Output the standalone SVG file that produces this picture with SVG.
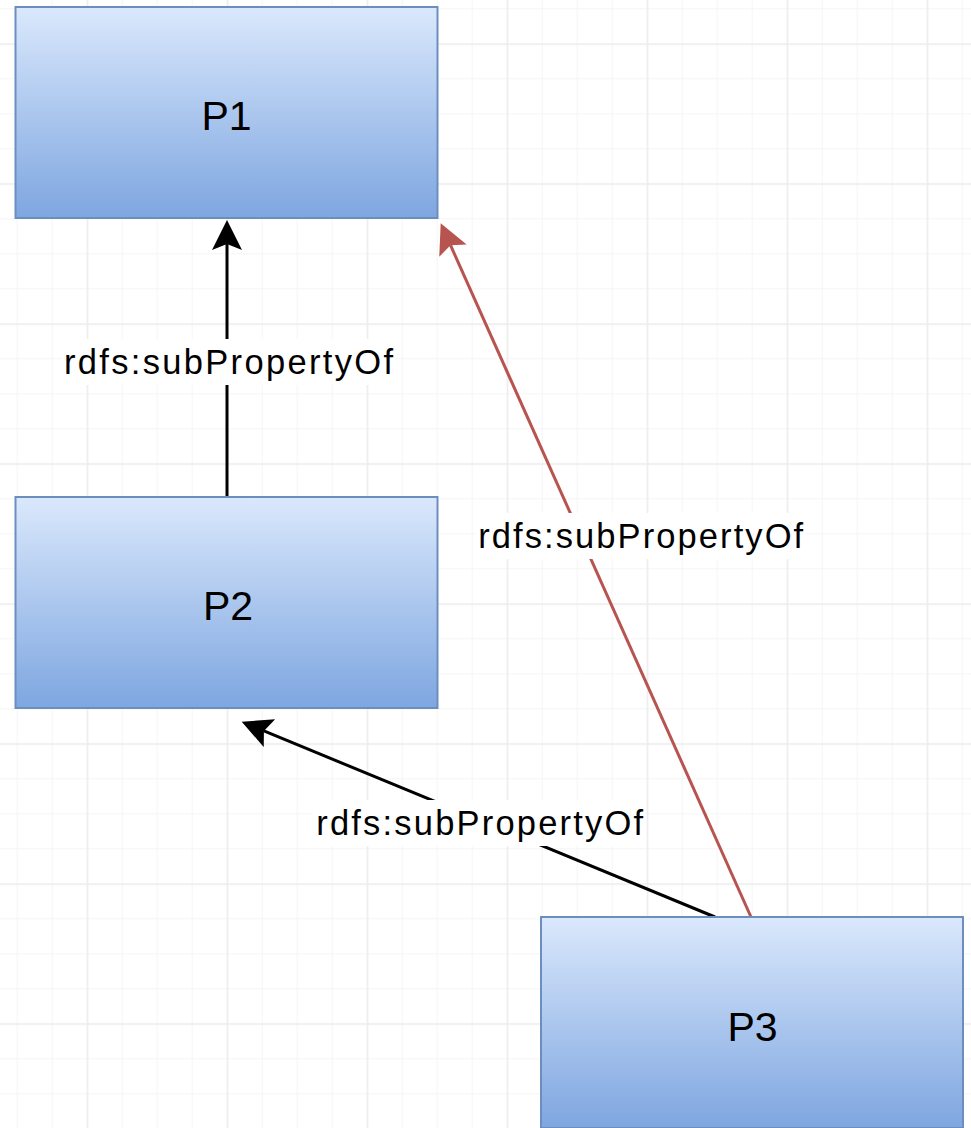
<svg xmlns="http://www.w3.org/2000/svg" width="971" height="1128" viewBox="0 0 971 1128">
<style>
.node{stroke:#6c8ebf;stroke-width:2;fill:url(#blueGrad)}
.nlabel{font-family:"Liberation Sans",Arial,sans-serif;font-size:41px;fill:#000;text-anchor:middle}
.elabel{font-family:"Liberation Sans",Arial,sans-serif;font-size:34.5px;fill:#000;text-anchor:middle}
.edge{fill:none;stroke-width:3}
.black{stroke:#000}
.red{stroke:#b85450}
.lblbg{fill:#fff}
</style>
<defs>
<linearGradient id="blueGrad" x1="0" y1="0" x2="0" y2="1">
<stop offset="0" stop-color="#dae8fc"/>
<stop offset="1" stop-color="#7ea6e0"/>
</linearGradient>
<pattern id="grid" patternUnits="userSpaceOnUse" x="86.7" y="43.3" width="140" height="140">
<rect x="0" y="0" width="140" height="140" fill="#fff"/>
<rect x="35" y="0" width="1" height="140" fill="#f5f5f5"/>
<rect x="70" y="0" width="1" height="140" fill="#f5f5f5"/>
<rect x="105" y="0" width="1" height="140" fill="#f5f5f5"/>
<rect x="0" y="35" width="140" height="1" fill="#f5f5f5"/>
<rect x="0" y="70" width="140" height="1" fill="#f5f5f5"/>
<rect x="0" y="105" width="140" height="1" fill="#f5f5f5"/>
<rect x="0" y="0" width="1.5" height="140" fill="#ebebeb"/>
<rect x="0" y="0" width="140" height="1.5" fill="#ebebeb"/>
</pattern>
<marker id="arrowBlack" markerUnits="userSpaceOnUse" markerWidth="32" markerHeight="32" refX="6" refY="15" orient="auto">
<path d="M30,15 L0,0 L6,15 L0,30 Z" fill="#000"/>
</marker>
<marker id="arrowRed" markerUnits="userSpaceOnUse" markerWidth="32" markerHeight="32" refX="6" refY="15" orient="auto">
<path d="M30,15 L0,0 L6,15 L0,30 Z" fill="#b85450"/>
</marker>
</defs>
<rect x="0" y="0" width="971" height="1128" fill="url(#grid)"/>

<g id="connectors">
<g id="e-p2-p1">
<line class="edge black" x1="227" y1="497" x2="227" y2="244" marker-end="url(#arrowBlack)"/>
<rect class="lblbg" x="62" y="339" width="333" height="46"/>
<text class="elabel" x="228.5" y="374" textLength="329" lengthAdjust="spacing">rdfs:subPropertyOf</text>
</g>
<g id="e-p3-p1">
<line class="edge red" x1="751" y1="917" x2="450.5" y2="245.2" marker-end="url(#arrowRed)"/>
<rect class="lblbg" x="476" y="513" width="330" height="46"/>
<text class="elabel" x="640.7" y="548.3" textLength="325" lengthAdjust="spacing">rdfs:subPropertyOf</text>
</g>
<g id="e-p3-p2">
<line class="edge black" x1="715" y1="917" x2="263.9" y2="730.9" marker-end="url(#arrowBlack)"/>
<rect class="lblbg" x="313" y="800" width="333" height="46"/>
<text class="elabel" x="479.7" y="835" textLength="327" lengthAdjust="spacing">rdfs:subPropertyOf</text>
</g>
</g>

<g id="P1">
<rect class="node" x="15.5" y="7" width="422" height="211"/>
<text class="nlabel" x="226.5" y="130">P1</text>
</g>
<g id="P2">
<rect class="node" x="15.5" y="497" width="422" height="211"/>
<text class="nlabel" x="228" y="619.5">P2</text>
</g>
<g id="P3">
<rect class="node" x="541" y="917" width="422" height="211"/>
<text class="nlabel" x="752.5" y="1040.5">P3</text>
</g>
</svg>
